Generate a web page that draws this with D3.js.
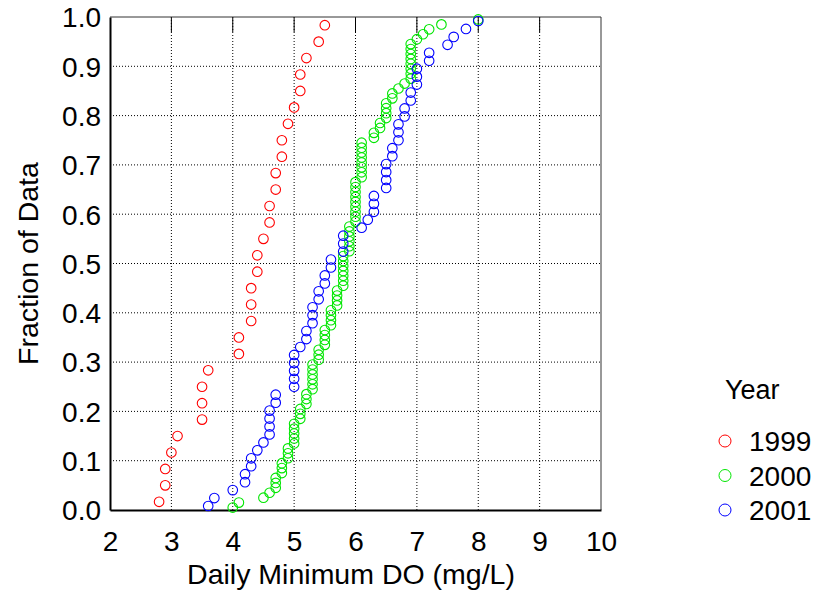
<!DOCTYPE html>
<html><head><meta charset="utf-8">
<script src="https://cdn.jsdelivr.net/npm/d3@7"></script>
<style>
body{margin:0;background:#fff}
svg{display:block}
text{font-family:"Liberation Sans",Arial,Helvetica,sans-serif;fill:#000}
</style>
</head><body>
<svg id="chart" width="818" height="593"></svg>
<script>
// ---- data ----
const years = ["1999", "2000", "2001"];
const seriesColors = ["#ff0000", "#00e600", "#0000ff"];
const do1999 = [2.8,2.9,2.9,3.0,3.1,3.5,3.5,3.5,3.6,4.1,4.1,4.3,4.3,4.3,4.4,4.4,4.5,4.6,4.6,4.7,4.7,4.8,4.8,4.9,5.0,5.1,5.1,5.2,5.4,5.5];
const do2000 = [4.0,4.1,4.5,4.6,4.7,4.7,4.7,4.8,4.8,4.8,4.9,4.9,4.9,5.0,5.0,5.0,5.0,5.0,
  5.1,5.1,5.1,5.2,5.2,5.2,5.3,5.3,5.3,5.3,5.3,5.3,5.4,5.4,5.4,5.5,5.5,5.5,5.5,5.6,5.6,5.6,5.6,
  5.7,5.7,5.7,5.7,5.8,5.8,5.8,5.8,5.8,5.8,5.8,5.9,5.9,5.9,5.9,5.9,5.9,
  6.0,6.0,6.0,6.0,6.0,6.0,6.0,6.0,6.0,6.1,6.1,6.1,6.1,6.1,6.1,6.1,6.1,
  6.3,6.3,6.4,6.4,6.5,6.5,6.5,6.5,6.6,6.6,6.7,6.8,6.9,6.9,6.9,6.9,6.9,6.9,6.9,6.9,7.0,7.1,7.2,7.4,8.0];
const do2001 = [3.6,3.7,4.0,4.2,4.2,4.3,4.3,4.4,4.5,4.6,4.6,4.6,4.6,4.7,4.7,5.0,5.0,5.0,5.0,5.0,
  5.1,5.2,5.2,5.3,5.3,5.3,5.4,5.4,5.5,5.5,5.6,5.6,5.8,5.8,5.8,6.1,6.2,6.3,6.3,6.3,
  6.5,6.5,6.5,6.5,6.6,6.6,6.7,6.7,6.7,6.8,6.8,6.9,6.9,7.0,7.0,7.0,7.2,7.2,7.5,7.6,7.8,8.0];
const xTickValues = [2,3,4,5,6,7,8,9,10];
const yTickValues = [0,0.1,0.2,0.3,0.4,0.5,0.6,0.7,0.8,0.9,1.0];
const xTitle = "Daily Minimum DO (mg/L)";
const yTitle = "Fraction of Data";
const legendTitle = "Year";

// ---- layout ----
const svg = d3.select("#chart");
const pL = 110, pR = 601, pT = 17, pB = 510;
const x = d3.scaleLinear().domain([2, 10]).range([pL, pR]);
const y = d3.scaleLinear().domain([0, 1]).range([pB, pT]);

// grid
const g = svg.append("g");
g.selectAll("line.vg").data(xTickValues.slice(1, -1)).join("line")
  .attr("x1", d => x(d)).attr("x2", d => x(d)).attr("y1", pT).attr("y2", pB)
  .attr("stroke", "#000").attr("stroke-width", 1).attr("stroke-dasharray", "1,2");
g.selectAll("line.hg").data(yTickValues.slice(1, -1)).join("line")
  .attr("y1", d => y(d)).attr("y2", d => y(d)).attr("x1", pL).attr("x2", pR)
  .attr("stroke", "#000").attr("stroke-width", 1).attr("stroke-dasharray", "1,2");

// top inner ticks
g.selectAll("line.tt").data(xTickValues.slice(1, -1)).join("line")
  .attr("x1", d => x(d)).attr("x2", d => x(d)).attr("y1", pT).attr("y2", pT + 15)
  .attr("stroke", "#000").attr("stroke-width", 1);

// frame
svg.append("line").attr("x1", pL).attr("x2", pR).attr("y1", pT).attr("y2", pT).attr("stroke", "#333").attr("stroke-width", 1);
svg.append("line").attr("x1", pR).attr("x2", pR).attr("y1", pT).attr("y2", pB).attr("stroke", "#333").attr("stroke-width", 1);

// axes via d3
const xAxis = d3.axisBottom(x).tickValues(xTickValues).tickFormat(d3.format("d")).tickSize(0).tickPadding(0);
const xa = svg.append("g").attr("transform", `translate(0,${pB})`).call(xAxis);
xa.select(".domain").attr("stroke", "#000").attr("stroke-width", 2);
xa.selectAll("text").attr("font-size", 28).attr("dy", null).attr("y", 41)
  .attr("font-family", '"Liberation Sans",Arial,sans-serif').attr("fill", "#000");

const yAxis = d3.axisLeft(y).tickValues(yTickValues).tickFormat(d3.format(".1f")).tickSize(0).tickPadding(0);
const ya = svg.append("g").attr("transform", `translate(${pL},0)`).call(yAxis);
ya.select(".domain").attr("stroke", "#000").attr("stroke-width", 2);
ya.selectAll("text").attr("font-size", 28).attr("x", -9).attr("dy", "0.35em")
  .attr("font-family", '"Liberation Sans",Arial,sans-serif').attr("fill", "#000");

// titles
svg.append("text").attr("x", 351).attr("y", 584).attr("text-anchor", "middle")
  .attr("font-size", 28.5).text(xTitle);
svg.append("text").attr("transform", `translate(38,${(pT + pB) / 2}) rotate(-90)`)
  .attr("text-anchor", "middle").attr("font-size", 28.5).text(yTitle);

// points (empirical CDF)
const allSeries = [do1999, do2000, do2001];
allSeries.forEach((vals, k) => {
  const sorted = vals.slice().sort(d3.ascending);
  const n = sorted.length;
  const pts = sorted.map((v, i) => ({ v, f: (i + 0.5) / n }));
  svg.append("g").selectAll("circle").data(pts).join("circle")
    .attr("cx", d => x(d.v)).attr("cy", d => y(d.f)).attr("r", 4.8)
    .attr("fill", "none").attr("stroke", seriesColors[k]).attr("stroke-width", 1.1);
});

// legend
svg.append("text").attr("x", 725).attr("y", 399).attr("font-size", 27).text(legendTitle);
const leg = svg.append("g");
years.forEach((yr, i) => {
  const cy = 441 + i * 34.5;
  leg.append("circle").attr("cx", 725).attr("cy", cy).attr("r", 6)
    .attr("fill", "none").attr("stroke", seriesColors[i]).attr("stroke-width", 1);
  leg.append("text").attr("x", 749).attr("y", cy + 10).attr("font-size", 28).text(yr);
});
</script>
</body></html>
